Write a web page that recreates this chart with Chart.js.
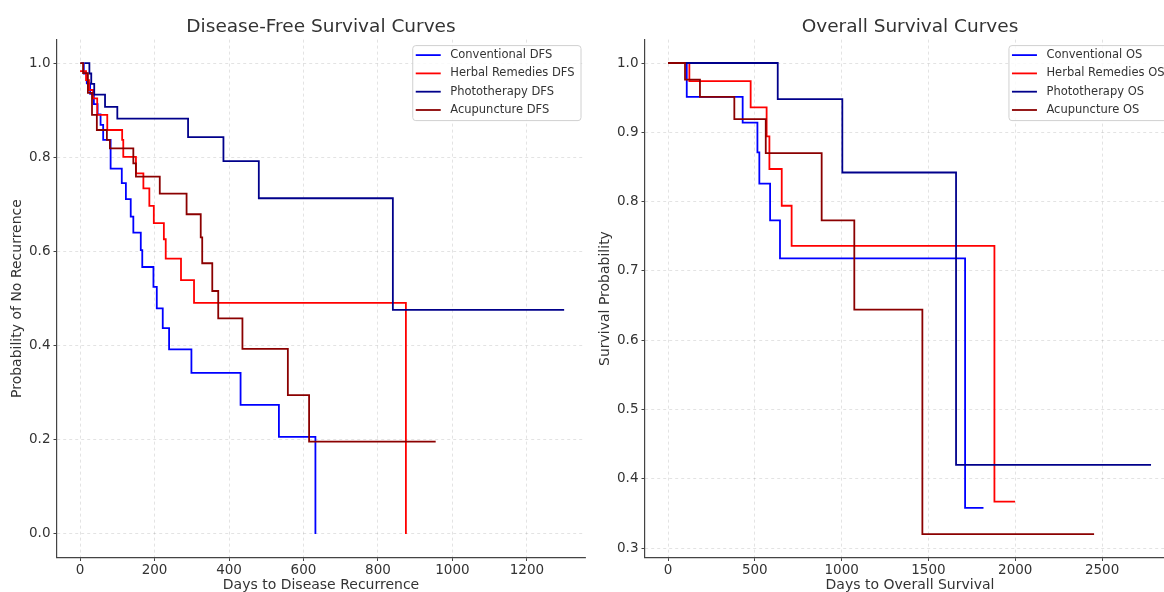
<!DOCTYPE html>
<html>
<head>
<meta charset="utf-8">
<script src="https://cdn.jsdelivr.net/npm/chart.js@4.4.0/dist/chart.umd.min.js"></script>
<style>
  body { margin: 0; background: #fff; overflow: hidden; width: 1164px; height: 592px; position: relative; }
  canvas { position: absolute; top: 0; }
  #dfsChart { left: 0; }
  #osChart { left: 590px; }
</style>
</head>
<body>
<canvas id="dfsChart" width="642" height="592"></canvas>
<canvas id="osChart" width="640" height="592"></canvas>
<script>
// disease-free survival, days and survival probability per group
var conventionalDfsDays = [3, 10, 18, 27, 37, 47, 55, 62, 82, 112, 123, 136, 143, 163, 167, 197, 206, 222, 239, 299, 431, 534, 632];
var conventionalDfsSurv = [1.0, 0.978, 0.957, 0.935, 0.913, 0.891, 0.869, 0.837, 0.776, 0.745, 0.711, 0.674, 0.640, 0.603, 0.567, 0.525, 0.479, 0.437, 0.392, 0.342, 0.274, 0.206, 0.0];
var herbalDfsDays = [0, 16, 24, 35, 46, 73, 113, 116, 150, 170, 186, 198, 225, 230, 271, 306, 875];
var herbalDfsSurv = [0.983, 0.964, 0.943, 0.925, 0.890, 0.858, 0.837, 0.801, 0.766, 0.734, 0.697, 0.660, 0.626, 0.585, 0.539, 0.491, 0.0];
var photoDfsDays = [12, 25, 30, 38, 67, 100, 290, 385, 480, 840, 1300];
var photoDfsSurv = [1.0, 0.978, 0.956, 0.933, 0.907, 0.882, 0.843, 0.792, 0.713, 0.476, 0.476];
var acuDfsDays = [0, 8, 21, 32, 45, 72, 80, 143, 150, 214, 286, 324, 328, 355, 371, 436, 558, 615, 955];
var acuDfsSurv = [1.0, 0.979, 0.937, 0.890, 0.858, 0.837, 0.819, 0.787, 0.759, 0.723, 0.679, 0.630, 0.575, 0.516, 0.458, 0.393, 0.295, 0.196, 0.196];

// overall survival
var conventionalOsDays = [0, 108, 430, 515, 526, 588, 645, 1711, 1817];
var conventionalOsSurv = [1.0, 0.951, 0.914, 0.871, 0.826, 0.773, 0.718, 0.358, 0.358];
var herbalOsDays = [0, 123, 476, 568, 584, 655, 712, 1880, 1999];
var herbalOsSurv = [1.0, 0.974, 0.936, 0.894, 0.847, 0.794, 0.736, 0.367, 0.367];
var photoOsDays = [0, 632, 1004, 1659, 2782];
var photoOsSurv = [1.0, 0.948, 0.842, 0.420, 0.420];
var acuOsDays = [0, 98, 184, 382, 563, 885, 1073, 1465, 2454];
var acuOsSurv = [1.0, 0.976, 0.951, 0.919, 0.870, 0.773, 0.644, 0.320, 0.320];

var groupNames = ['Conventional', 'Herbal Remedies', 'Phototherapy', 'Acupuncture'];
var groupColors = ['#0000ff', '#ff0000', '#00008b', '#8b0000'];

var dfsXTicks = [0, 200, 400, 600, 800, 1000, 1200];
var dfsYTicks = [0.0, 0.2, 0.4, 0.6, 0.8, 1.0];
var osXTicks = [0, 500, 1000, 1500, 2000, 2500];
var osYTicks = [0.3, 0.4, 0.5, 0.6, 0.7, 0.8, 0.9, 1.0];

Chart.defaults.font.family = '"DejaVu Sans", sans-serif';
Chart.defaults.color = '#333';

function toPoints(days, surv) {
    return days.map(function (d, i) { return { x: d, y: surv[i] }; });
}

function makeDatasets(suffix, dayLists, survLists) {
    var obj = [];
    for (let i = 0; i < groupNames.length; i++) {
        obj.push({
            label: groupNames[i] + ' ' + suffix,
            data: toPoints(dayLists[i], survLists[i]),
            borderColor: groupColors[i],
            backgroundColor: groupColors[i],
            borderWidth: 1.8,
            pointRadius: 0,
            stepped: true,
            fill: false,
            order: groupNames.length - i
        });
    }
    return obj;
}

// legend box in the top right corner of the plot area
var boxLegend = {
    id: 'boxLegend',
    afterDraw: function (chart) {
        var ctx = chart.ctx, area = chart.chartArea;
        var sets = chart.data.datasets;
        ctx.save();
        ctx.font = '11.5px "DejaVu Sans"';
        var maxW = 0;
        sets.forEach(function (ds) { maxW = Math.max(maxW, ctx.measureText(ds.label).width); });
        var w = maxW + 44, h = 75;
        var x = area.right - 4 - w, y = area.top + 6;
        ctx.beginPath();
        ctx.roundRect(x, y, w, h, 3);
        ctx.fillStyle = 'rgba(255,255,255,0.8)';
        ctx.fill();
        ctx.strokeStyle = '#d0d0d0';
        ctx.lineWidth = 1;
        ctx.stroke();
        sets.forEach(function (ds, i) {
            var ly = y + 9.5 + i * 18.3;
            ctx.strokeStyle = ds.borderColor;
            ctx.lineWidth = 1.8;
            ctx.beginPath();
            ctx.moveTo(x + 3, ly);
            ctx.lineTo(x + 28, ly);
            ctx.stroke();
            ctx.fillStyle = '#333';
            ctx.textBaseline = 'middle';
            ctx.fillText(ds.label, x + 37.5, ly);
        });
        ctx.restore();
    }
};

function axis(opts) {
    return {
        type: 'linear',
        min: opts.min,
        max: opts.max,
        afterBuildTicks: function (s) { s.ticks = opts.ticks.map(function (v) { return { value: v }; }); },
        afterFit: function (s) {
            if (opts.width) s.width = opts.width;
            if (opts.height) s.height = opts.height;
        },
        ticks: {
            autoSkip: false,
            maxRotation: 0,
            padding: opts.tickPad,
            font: { size: 13.5 },
            color: '#333',
            callback: opts.fmt
        },
        grid: {
            color: 'rgba(0,0,0,0.14)',
            lineWidth: 0.8,
            drawTicks: true,
            tickLength: 3.5,
            tickColor: '#444',
            tickWidth: 1
        },
        border: { display: true, color: '#444', width: 1.2, dash: [3, 3] },
        title: {
            display: true,
            text: opts.title,
            font: { size: 14, lineHeight: 1.0 },
            color: '#333',
            padding: opts.titlePad
        }
    };
}

// empty axis on the right that only reserves space, so the title stays centred over the plot
function spacer(w) {
    return {
        type: 'linear',
        position: 'right',
        display: true,
        grid: { display: false, drawTicks: false },
        ticks: { display: false },
        border: { display: false },
        afterFit: function (s) { s.width = w; }
    };
}

function makeChart(id, title, datasets, xAxis, yAxis, rightSpace) {
    new Chart(document.getElementById(id).getContext('2d'), {
        type: 'line',
        data: { datasets: datasets },
        options: {
            responsive: false,
            animation: false,
            devicePixelRatio: 1,
            events: [],
            layout: { padding: 0 },
            plugins: {
                legend: { display: false },
                tooltip: { enabled: false },
                title: {
                    display: true,
                    text: title,
                    color: '#333',
                    font: { size: 18.5, weight: 'normal', lineHeight: 1.2 },
                    padding: { top: 16.5, bottom: 0.9 }
                }
            },
            scales: { x: xAxis, y: yAxis, pad: spacer(rightSpace) }
        },
        plugins: [boxLegend]
    });
}

makeChart('dfsChart', 'Disease-Free Survival Curves',
    makeDatasets('DFS',
        [conventionalDfsDays, herbalDfsDays, photoDfsDays, acuDfsDays],
        [conventionalDfsSurv, herbalDfsSurv, photoDfsSurv, acuDfsSurv]),
    axis({ min: -62, max: 1356, ticks: dfsXTicks, fmt: function (v) { return String(v); },
           title: 'Days to Disease Recurrence', titlePad: { top: 0, bottom: 0 }, height: 34.5, tickPad: 1 }),
    axis({ min: -0.05, max: 1.05, ticks: dfsYTicks, fmt: function (v) { return v.toFixed(1); },
           title: 'Probability of No Recurrence', titlePad: { top: 10, bottom: 0 }, width: 57, tickPad: 3 }),
    57);

makeChart('osChart', 'Overall Survival Curves',
    makeDatasets('OS',
        [conventionalOsDays, herbalOsDays, photoOsDays, acuOsDays],
        [conventionalOsSurv, herbalOsSurv, photoOsSurv, acuOsSurv]),
    axis({ min: -132.5, max: 2920, ticks: osXTicks, fmt: function (v) { return String(v); },
           title: 'Days to Overall Survival', titlePad: { top: 0, bottom: 0 }, height: 34.5, tickPad: 1 }),
    axis({ min: 0.2863, max: 1.0338, ticks: osYTicks, fmt: function (v) { return v.toFixed(1); },
           title: 'Survival Probability', titlePad: { top: 8, bottom: 0 }, width: 55, tickPad: 3 }),
    55);
</script>
</body>
</html>
